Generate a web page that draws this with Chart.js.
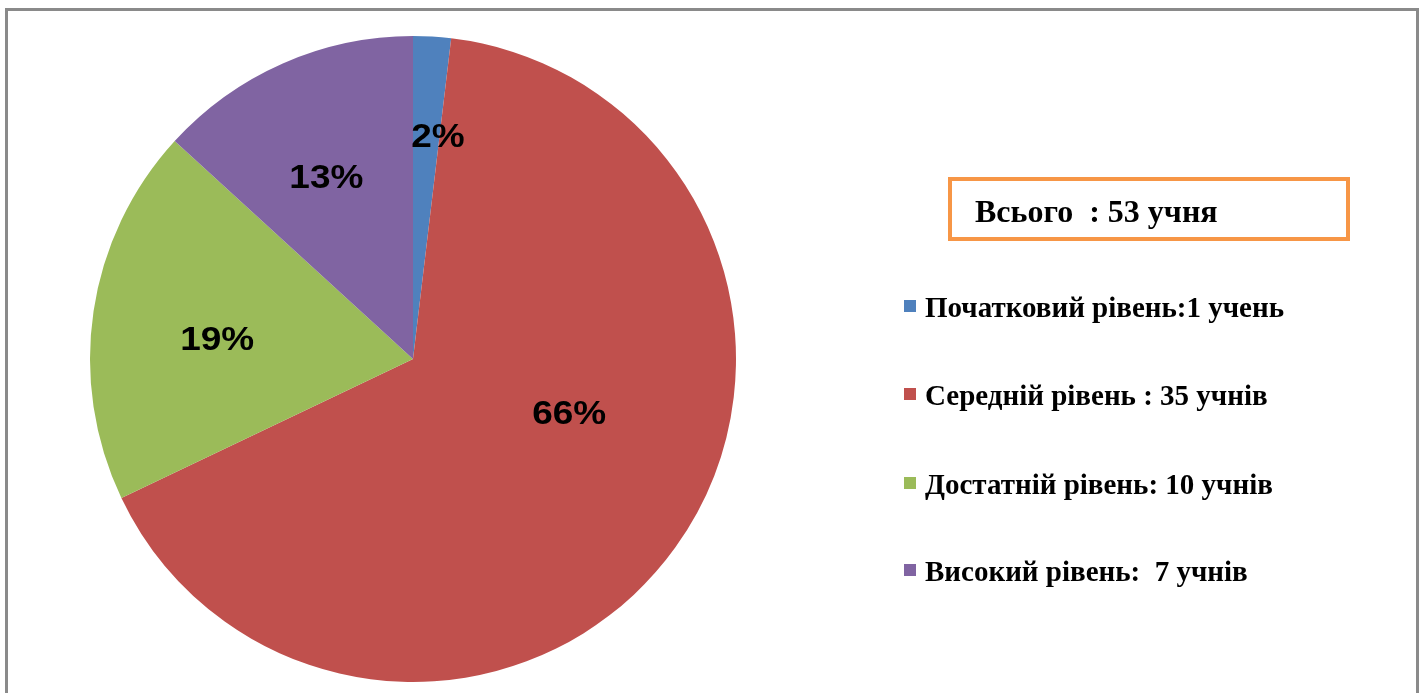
<!DOCTYPE html>
<html>
<head>
<meta charset="utf-8">
<script src="https://cdn.jsdelivr.net/npm/chart.js@4.4.1/dist/chart.umd.min.js"></script>
<style>
  html, body { margin: 0; padding: 0; background: #fff; overflow: hidden; }
  #wrap { position: relative; width: 1424px; height: 693px; }
  #c { position: absolute; left: 0; top: 0; }
  #frame { position: absolute; left: 5px; top: 8px; width: 1408px; height: 700px;
           border: 3px solid #8a8a8a; border-bottom: none; pointer-events: none; }
  #total { position: absolute; left: 948px; top: 177px; width: 394px; height: 56px;
           border: 4px solid #F79646; font-family: "Liberation Serif", "Times New Roman", serif;
           font-weight: bold; font-size: 32px; line-height: 56px; color: #000; }
  #total span { position: absolute; left: 23px; top: 2px; white-space: pre; }
  .leg { position: absolute; left: 904px; font-family: "Liberation Serif", "Times New Roman", serif;
         font-weight: bold; font-size: 29px; color: #000; white-space: pre; height: 30px; line-height: 30px; }
  .leg i { position: absolute; left: 0; top: 9px; width: 12px; height: 12px; }
  .leg span { position: absolute; left: 21px; top: 1px; }
</style>
</head>
<body>
<div id="wrap">
  <canvas id="c" width="1424" height="693"></canvas>
  <div id="frame"></div>
  <div id="total"><span></span></div>
</div>
<script>
const categories = ["Початковий рівень:1 учень", "Середній рівень : 35 учнів", "Достатній рівень: 10 учнів", "Високий рівень:  7 учнів"];
const values = [1, 35, 10, 7];
const percentLabels = ["2%", "66%", "19%", "13%"];
const colors = ["#4F81BD", "#C0504D", "#9BBB59", "#8064A2"];
const totalText = "Всього  : 53 учня";
const legendTops = [291, 379, 468, 555];

// label placement inside each slice: [fraction of slice angle, fraction of radius]
const labelPlace = [[0.93, 0.70], [0.428, 0.51], [0.47, 0.61], [0.47, 0.63]];

const labelPlugin = {
  id: 'pctLabels',
  afterDatasetsDraw(chart) {
    const ctx = chart.ctx;
    const meta = chart.getDatasetMeta(0);
    ctx.save();
    ctx.font = 'bold 33px "Liberation Sans", Arial, sans-serif';
    ctx.fillStyle = '#000';
    ctx.textAlign = 'center';
    ctx.textBaseline = 'middle';
    meta.data.forEach((arc, i) => {
      const p = arc.getProps(['x', 'y', 'startAngle', 'endAngle', 'outerRadius'], true);
      const a = p.startAngle + (p.endAngle - p.startAngle) * labelPlace[i][0];
      const r = p.outerRadius * labelPlace[i][1];
      const x = p.x + Math.cos(a) * r;
      const y = p.y + Math.sin(a) * r + 4;
      ctx.save();
      ctx.translate(x, y);
      ctx.scale(1.12, 1);
      ctx.fillText(percentLabels[i], 0, 0);
      ctx.restore();
    });
    ctx.restore();
  }
};

new Chart(document.getElementById('c'), {
  type: 'pie',
  data: {
    labels: categories,
    datasets: [{ data: values, backgroundColor: colors, borderWidth: 0 }]
  },
  options: {
    responsive: false,
    animation: false,
    layout: { padding: { left: 90, top: 36, right: 688, bottom: 11 } },
    plugins: { legend: { display: false }, tooltip: { enabled: false } }
  },
  plugins: [labelPlugin]
});

document.querySelector('#total span').textContent = totalText;
const wrap = document.getElementById('wrap');
categories.forEach((c, i) => {
  const d = document.createElement('div');
  d.className = 'leg';
  d.style.top = legendTops[i] + 'px';
  const sw = document.createElement('i');
  sw.style.background = colors[i];
  const t = document.createElement('span');
  t.textContent = c;
  d.appendChild(sw); d.appendChild(t);
  wrap.appendChild(d);
});
</script>
</body>
</html>
